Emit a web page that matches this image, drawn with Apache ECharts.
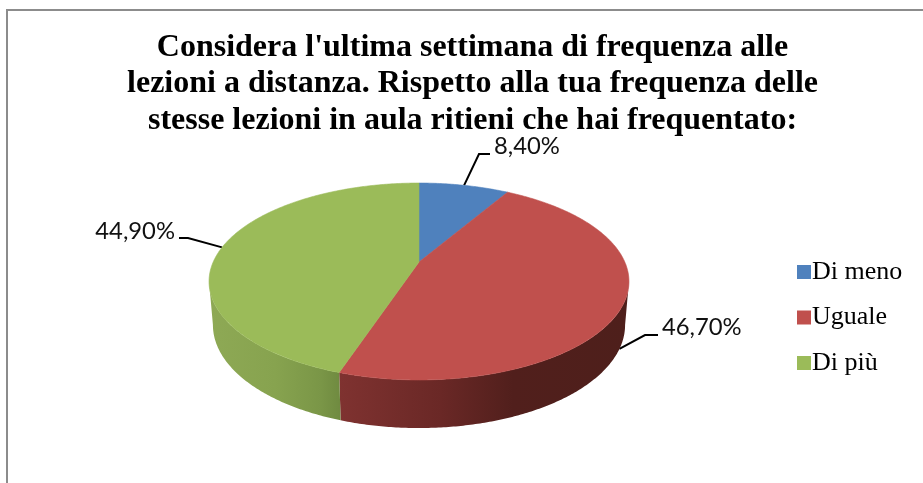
<!DOCTYPE html>
<html><head><meta charset="utf-8">
<style>html,body{margin:0;padding:0;background:#fff}#c{width:923px;height:483px}</style>
<script src="https://cdn.jsdelivr.net/npm/echarts@6/dist/echarts.min.js"></script>
</head><body><div id="c"></div>
<script>
const categories = ['Di meno', 'Uguale', 'Di più'];
const values = [8.4, 46.7, 44.9];
const titleLines = ["Considera l'ultima settimana di frequenza alle", "lezioni a distanza. Rispetto alla tua frequenza delle", "stesse lezioni in aula ritieni che hai frequentato:"];

const topColors = ['#4f81bd', '#c0504d', '#9bbb59'];
const wallStops = [
  [[0, '#3a6290'], [1, '#3a6290']],
  [[0, '#7f3230'], [0.35, '#6a2826'], [0.6, '#511f1c'], [1, '#4e1f1b']],
  [[0, '#8ea955'], [0.5, '#87a34f'], [0.85, '#7a9647'], [1, '#6f8a40']]
];
const K = 0.198;
const topFace = { x: 419, y: 262, a: 205.8, b: 94.6 };
const baseFace = { x: 419, y: 304.6, a: 202, b: 99 };
const labelLayout = [
  { knee: [479, 154], end: [490, 154], text: [494, 146.5], align: 'left', rim: topFace },
  { knee: [645, 335], end: [658, 335], text: [662, 327.5], align: 'left', rim: baseFace },
  { knee: [188, 238], end: [179, 238], text: [175, 231], align: 'right', rim: topFace }
];
const total = values.reduce((s, v) => s + v, 0);
function project(face, t) {
  const u = Math.sin(t), v = Math.cos(t), d = 1 + K * v;
  return [face.x + face.a * u / d, face.y - face.b * v / d];
}
function arc(face, t0, t1) {
  const n = Math.max(2, Math.ceil(Math.abs(t1 - t0) / 0.01)), pts = [];
  for (let i = 0; i <= n; i++) pts.push(project(face, t0 + (t1 - t0) * i / n));
  return pts;
}
const silL = Math.acos(-K), silR = 2 * Math.PI - silL;
const starts = values.map((_, i) => values.slice(0, i).reduce((s, v) => s + v, 0));
function fmt(v) { return v.toFixed(2).replace('.', ',') + '%'; }

const series = categories.map((name, idx) => ({
  type: 'custom',
  name,
  coordinateSystem: 'none',
  itemStyle: { color: topColors[idx] },
  data: [[values[idx], starts[idx]]],
  silent: true,
  renderItem(params, api) {
    const val = api.value(0), st = api.value(1);
    const t0 = st / total * 2 * Math.PI, t1 = (st + val) / total * 2 * Math.PI;
    const children = [];
    const w0 = Math.max(t0, silL), w1 = Math.min(t1, silR);
    if (w1 > w0) {
      const pts = arc(topFace, w0, w1).concat(arc(baseFace, w1, w0));
      children.push({
        type: 'polygon', z2: 1,
        shape: { points: pts },
        style: { fill: new echarts.graphic.LinearGradient(0, 0, 1, 0,
          wallStops[idx].map(s => ({ offset: s[0], color: s[1] }))), stroke: null }
      });
    }
    const face = [[topFace.x, topFace.y]].concat(arc(topFace, t0, t1));
    children.push({ type: 'polygon', z2: 2, shape: { points: face },
      style: { fill: topColors[idx], stroke: topColors[idx], lineWidth: 0.6 } });
    const lay = labelLayout[idx];
    const anchor = project(lay.rim, (t0 + t1) / 2);
    children.push({ type: 'polyline', z2: 0,
      shape: { points: [anchor, lay.knee, lay.end] },
      style: { stroke: '#000', lineWidth: 2, fill: null } });
    children.push({ type: 'text', z2: 3, x: lay.text[0], y: lay.text[1],
      style: { text: fmt(val), font: '23.8px Lato, sans-serif', fill: '#111',
        align: lay.align, verticalAlign: 'middle' } });
    return { type: 'group', children };
  }
}));

const chart = echarts.init(document.getElementById('c'), null, { renderer: 'canvas' });
chart.setOption({
  animation: false,
  backgroundColor: '#fff',
  title: {
    text: titleLines.join('\n'),
    left: 467.5, top: 24, textAlign: 'center',
    textStyle: { fontFamily: 'Liberation Serif', fontWeight: 'bold', fontSize: 32, lineHeight: 36.5, color: '#000' }
  },
  legend: {
    data: categories,
    orient: 'vertical',
    left: 792, top: 253,
    icon: 'rect', itemWidth: 14, itemHeight: 14, itemGap: 17.5,
    selectedMode: false,
    textStyle: { fontFamily: 'Liberation Serif', fontSize: 26, color: '#000', padding: [0, 0, 0, -4], lineHeight: 28 }
  },
  graphic: [
    { type: 'rect', shape: { x: 6, y: 9, width: 917, height: 2 }, style: { fill: '#8c8c8c' }, silent: true },
    { type: 'rect', shape: { x: 6, y: 9, width: 2, height: 474 }, style: { fill: '#8c8c8c' }, silent: true }
  ],
  series
});
</script></body></html>
